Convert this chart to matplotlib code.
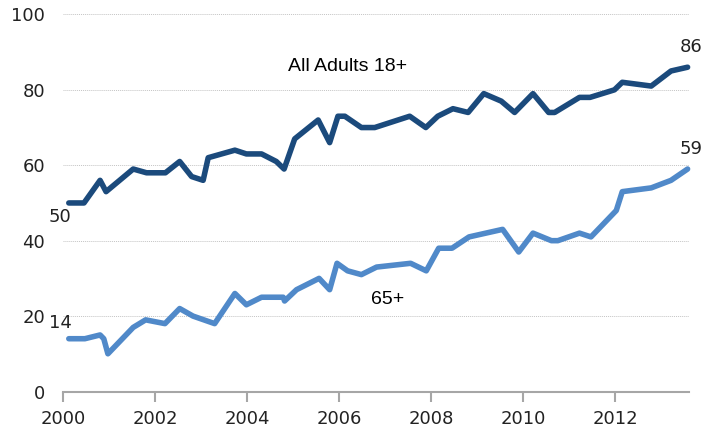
import matplotlib.pyplot as plt

# datos (fecha en años decimales, porcentaje)
x_adultos = [2000.12, 2000.45, 2000.80, 2000.93, 2001.52, 2001.81, 2002.22, 2002.53, 2002.79,
             2003.04, 2003.15, 2003.73, 2003.98, 2004.31, 2004.63, 2004.80, 2005.03, 2005.54,
             2005.79, 2005.97, 2006.12, 2006.48, 2006.77, 2007.53, 2007.88, 2008.14, 2008.47,
             2008.80, 2009.14, 2009.52, 2009.81, 2010.21, 2010.55, 2010.68, 2011.22, 2011.45,
             2011.98, 2012.15, 2012.78, 2013.21, 2013.57]
y_adultos = [50, 50, 56, 53, 59, 58, 58, 61, 57,
             56, 62, 64, 63, 63, 61, 59, 67, 72,
             66, 73, 73, 70, 70, 73, 70, 73, 75,
             74, 79, 77, 74, 79, 74, 74, 78, 78,
             80, 82, 81, 85, 86]

x_mayores = [2000.12, 2000.47, 2000.80, 2000.88, 2000.97, 2001.52, 2001.79, 2002.21, 2002.53,
             2002.82, 2003.29, 2003.73, 2003.98, 2004.31, 2004.78, 2004.81, 2005.07, 2005.56,
             2005.79, 2005.95, 2006.18, 2006.48, 2006.81, 2007.55, 2007.89, 2008.16, 2008.45,
             2008.82, 2009.55, 2009.90, 2010.21, 2010.61, 2010.75, 2011.22, 2011.47, 2012.02,
             2012.15, 2012.78, 2013.21, 2013.57]
y_mayores = [14, 14, 15, 14, 10, 17, 19, 18, 22,
             20, 18, 26, 23, 25, 25, 24, 27, 30,
             27, 34, 32, 31, 33, 34, 32, 38, 38,
             41, 43, 37, 42, 40, 40, 42, 41, 48,
             53, 54, 56, 59]

anios = [2000, 2002, 2004, 2006, 2008, 2010, 2012]
yticks = [0, 20, 40, 60, 80, 100]

plt.rcParams['font.family'] = ['DejaVu Sans']

fig = plt.figure(figsize=(7.07, 4.29), dpi=100)
ax = fig.add_axes([0.0895, 0.0874, 0.885, 0.879])

oscuro = '#1b4a7c'
claro = '#5089c9'

ax.plot(x_adultos, y_adultos, color=oscuro, lw=4, solid_capstyle='round',
        solid_joinstyle='round', clip_on=False, zorder=3)
ax.plot(x_mayores, y_mayores, color=claro, lw=4, solid_capstyle='round',
        solid_joinstyle='round', clip_on=False, zorder=3)

ax.set_xlim(2000, 2013.6)
ax.set_ylim(0, 100)

# cuadricula punteada
for v in yticks[1:]:
    ax.axhline(v, color='#c4c4c4', lw=0.7, ls=(0, (1, 1)), zorder=1)

for s in ['top', 'right', 'left']:
    ax.spines[s].set_visible(False)
ax.spines['bottom'].set_color('#a6a6a6')
ax.spines['bottom'].set_linewidth(1.5)

ax.set_xticks(anios)
ax.set_yticks(yticks)
ax.tick_params(axis='x', direction='out', length=7, width=1.5, color='#a6a6a6',
               labelsize=13, labelcolor='#222222', pad=6)
ax.tick_params(axis='y', length=0, labelsize=13, labelcolor='#222222', pad=13)

# etiquetas
etiq = dict(family=['Liberation Sans', 'DejaVu Sans'], fontsize=14, ha='center',
            va='center', color='black')
ax.text(2006.18, 86.3, 'All Adults 18+', **etiq)
ax.text(2007.05, 24.5, '65+', **etiq)
ax.text(2013.65, 91.3, str(y_adultos[-1]), fontsize=13, ha='center', va='center', color='#222222')
ax.text(2013.65, 64.2, str(y_mayores[-1]), fontsize=13, ha='center', va='center', color='#222222')
ax.text(1999.93, 46.4, str(y_adultos[0]), fontsize=13, ha='center', va='center', color='#222222')
ax.text(1999.93, 18.1, str(y_mayores[0]), fontsize=13, ha='center', va='center', color='#222222')

fig.savefig('out.png', dpi=100)
